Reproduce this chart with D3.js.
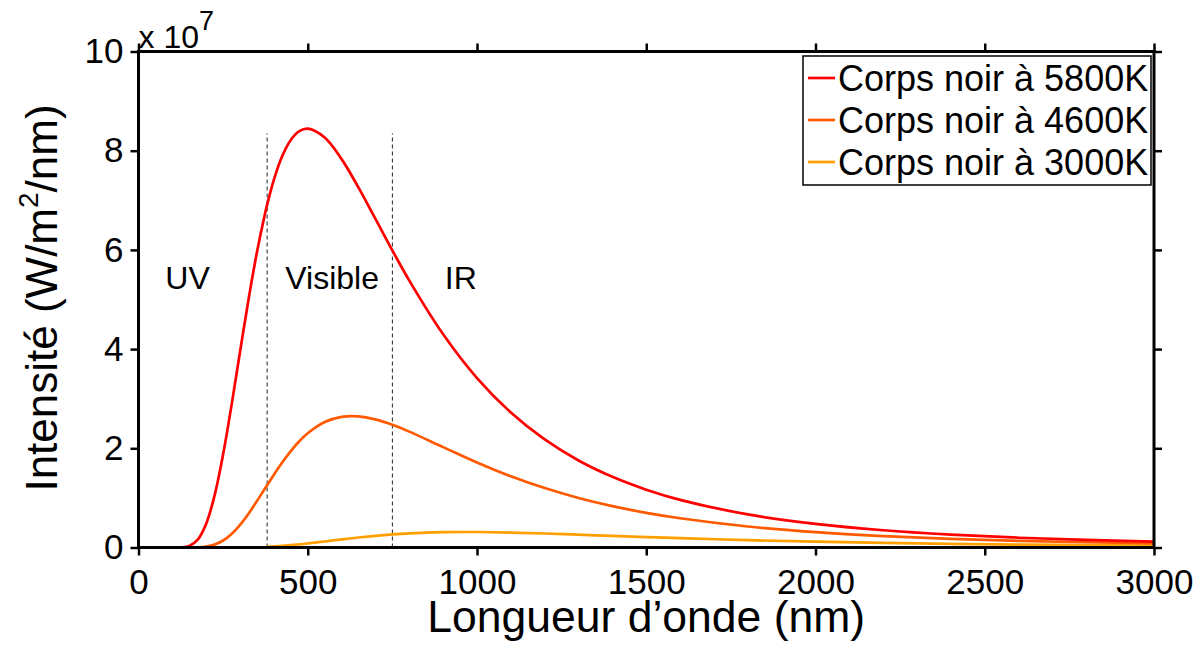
<!DOCTYPE html>
<html>
<head>
<meta charset="utf-8">
<script src="https://cdn.jsdelivr.net/npm/d3@7"></script>
<style>
  html, body { margin: 0; padding: 0; background: #fff; }
  svg { display: block; font-family: "Liberation Sans", Arial, sans-serif; }
</style>
</head>
<body>
<svg id="chart" width="1203" height="649"></svg>
<script>
// Wavelengths (nm) at which the spectra are sampled
const wavelengths = [100, 125, 150, 175, 200, 225, 250, 275, 300, 325, 350, 375, 380, 400, 425, 450, 475, 500,
  550, 600, 650, 700, 750, 800, 900, 1000, 1100, 1200, 1300, 1400, 1500, 1600,
  1800, 2000, 2200, 2400, 2600, 2800, 3000];

// Spectral intensity, in units of 1e7 W/m²/nm
const intensity5800 = [0.0001, 0.003, 0.032, 0.159, 0.480, 1.057, 1.879, 2.876, 3.948, 4.999, 5.956, 6.770, 6.91, 7.418, 7.898, 8.216, 8.393, 8.444,
  8.265, 7.830, 7.255, 6.625, 5.990, 5.381, 4.299, 3.417, 2.722, 2.178, 1.755, 1.425, 1.166, 0.961,
  0.667, 0.476, 0.348, 0.260, 0.197, 0.153, 0.120];
const intensity4600 = [0, 0, 0.0004, 0.004, 0.019, 0.060, 0.141, 0.273, 0.457, 0.682, 0.937, 1.204, 1.257, 1.469, 1.719, 1.944, 2.141, 2.303,
  2.529, 2.635, 2.644, 2.582, 2.474, 2.336, 2.024, 1.715, 1.436, 1.198, 0.999, 0.834, 0.699, 0.589,
  0.423, 0.310, 0.231, 0.175, 0.135, 0.106, 0.084];
const intensity3000 = [null, null, null, null, null, null, null, null, null, null, null, null, 0.016, 0.023, 0.034, 0.048, 0.063, 0.082,
  0.121, 0.163, 0.202, 0.236, 0.264, 0.285, 0.309, 0.312, 0.301, 0.282, 0.258, 0.234, 0.210, 0.188,
  0.148, 0.117, 0.093, 0.074, 0.059, 0.048, 0.039];

const seriesNames = ["Corps noir à 5800K", "Corps noir à 4600K", "Corps noir à 3000K"];
const seriesColors = ["#ff0000", "#ff5a00", "#ffa000"];

// Boundaries of the visible band (nm) and height of the marker lines
const bandLimits = [380, 750];
const bandLineTop = 8.35;
const bandLabels = [
  { text: "UV", x: 145 },
  { text: "Visible", x: 572 },
  { text: "IR", x: 952 }
];
const bandLabelLevel = 5.22;

const xTicks = [0, 500, 1000, 1500, 2000, 2500, 3000];
const yTicks = [0, 2, 4, 6, 8, 10];

const W = 1203, H = 649;
const margin = { left: 138.5, right: 49, top: 51.5, bottom: 101.5 };
const innerW = W - margin.left - margin.right;
const innerH = H - margin.top - margin.bottom;

const svg = d3.select("#chart");
const g = svg.append("g").attr("transform", `translate(${margin.left},${margin.top})`);

const x = d3.scaleLinear().domain([0, 3000]).range([0, innerW]);
const y = d3.scaleLinear().domain([0, 10]).range([innerH, 0]);

g.append("clipPath").attr("id", "plotClip")
  .append("rect").attr("x", 0).attr("y", 0).attr("width", innerW).attr("height", innerH);

const plot = g.append("g").attr("clip-path", "url(#plotClip)");

const series = [intensity5800, intensity4600, intensity3000].map((vals, i) => ({
  name: seriesNames[i],
  color: seriesColors[i],
  points: wavelengths.map((w, j) => ({ w, v: vals[j] }))
}));

const line = d3.line()
  .defined(d => d.v !== null)
  .x(d => x(d.w))
  .y(d => y(d.v))
  .curve(d3.curveCatmullRom.alpha(0.5));

// Dashed markers of the visible band
plot.selectAll(".band")
  .data(bandLimits)
  .enter().append("line")
  .attr("x1", d => x(d)).attr("x2", d => x(d))
  .attr("y1", y(0)).attr("y2", y(bandLineTop))
  .attr("stroke", "#222").attr("stroke-width", 1)
  .attr("stroke-dasharray", "4,3");

// Spectra, coolest first so the hottest is on top
plot.selectAll(".spectrum")
  .data(series.slice().reverse())
  .enter().append("path")
  .attr("d", d => line(d.points))
  .attr("fill", "none")
  .attr("stroke", d => d.color)
  .attr("stroke-width", 2.7);

// Band labels
g.selectAll(".bandLabel")
  .data(bandLabels)
  .enter().append("text")
  .attr("x", d => x(d.x))
  .attr("y", y(bandLabelLevel))
  .attr("text-anchor", "middle")
  .attr("font-size", 32)
  .text(d => d.text);

// Axes on all four sides, ticks pointing outward
const tickStyle = sel => {
  sel.select(".domain").remove();
  sel.selectAll(".tick line").attr("stroke", "#000").attr("stroke-width", 2.5);
};

const xBottom = g.append("g").attr("transform", `translate(0,${innerH})`)
  .call(d3.axisBottom(x).tickValues(xTicks).tickSize(8).tickPadding(14).tickFormat(d3.format("d")));
tickStyle(xBottom);
xBottom.selectAll(".tick text").attr("font-size", 35).attr("fill", "#000")
  .attr("font-family", "Liberation Sans, Arial, sans-serif");

const xTop = g.append("g")
  .call(d3.axisTop(x).tickValues(xTicks).tickSize(8).tickFormat(""));
tickStyle(xTop);

const yLeft = g.append("g")
  .call(d3.axisLeft(y).tickValues(yTicks).tickSize(8).tickPadding(7).tickFormat(d3.format("d")));
tickStyle(yLeft);
yLeft.selectAll(".tick text").attr("font-size", 35).attr("fill", "#000")
  .attr("font-family", "Liberation Sans, Arial, sans-serif");

const yRight = g.append("g").attr("transform", `translate(${innerW},0)`)
  .call(d3.axisRight(y).tickValues(yTicks).tickSize(8).tickFormat(""));
tickStyle(yRight);

g.append("rect")
  .attr("x", 0).attr("y", 0).attr("width", innerW).attr("height", innerH)
  .attr("fill", "none").attr("stroke", "#000").attr("stroke-width", 3);

// Exponent of the y axis
const expo = svg.append("text").attr("x", margin.left).attr("y", 48).attr("font-size", 32);
expo.append("tspan").text("x 10");
expo.append("tspan").attr("font-size", 27).attr("dy", -18).text("7");

// Axis titles
svg.append("text")
  .attr("x", margin.left + innerW / 2)
  .attr("y", 632)
  .attr("text-anchor", "middle")
  .attr("font-size", 44.5)
  .text("Longueur d’onde (nm)");

const yTitle = svg.append("text")
  .attr("transform", `translate(57,${298}) rotate(-90)`)
  .attr("text-anchor", "middle")
  .attr("font-size", 44);
yTitle.append("tspan").text("Intensité (W/m");
yTitle.append("tspan").attr("font-size", 28).attr("dy", -19).text("2");
yTitle.append("tspan").attr("dy", 19).text("/nm)");

// Legend
const legend = svg.append("g").attr("transform", "translate(803,56)");
legend.append("rect")
  .attr("width", 348).attr("height", 129)
  .attr("fill", "#fff").attr("stroke", "#000").attr("stroke-width", 1.5);
const rows = legend.selectAll(".row")
  .data(series)
  .enter().append("g")
  .attr("transform", (d, i) => `translate(0,${22 + i * 42})`);
rows.append("line")
  .attr("x1", 5).attr("x2", 32).attr("y1", 0).attr("y2", 0)
  .attr("stroke", d => d.color).attr("stroke-width", 2.7);
rows.append("text")
  .attr("x", 35).attr("y", 12.5)
  .attr("font-size", 36)
  .text(d => d.name);
</script>
</body>
</html>
